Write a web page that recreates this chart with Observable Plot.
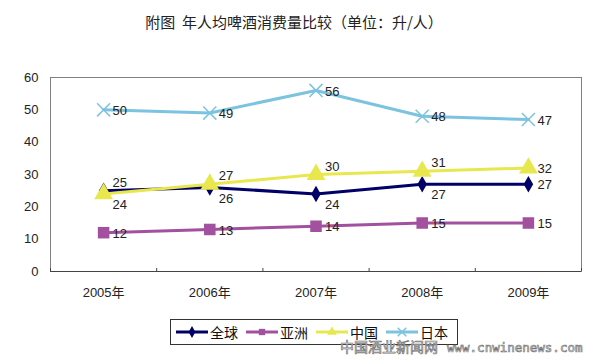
<!DOCTYPE html>
<html><head><meta charset="utf-8">
<script src="https://cdn.jsdelivr.net/npm/d3@7"></script>
<script src="https://cdn.jsdelivr.net/npm/@observablehq/plot@0.6"></script>
<style>
body{margin:0;background:#fff;}
#wrap{position:relative;width:600px;height:362px;overflow:hidden;font-family:"Liberation Sans","Noto Sans CJK SC",sans-serif;background:#fff;}
#title{position:absolute;left:0;top:12px;width:588px;text-align:center;font-size:15px;line-height:20px;color:#222;font-family:"Noto Sans CJK SC",sans-serif;z-index:2;}
#chart{position:absolute;left:0;top:0;z-index:1;}
#legend{position:absolute;left:170px;top:319px;width:288px;height:26px;border:1px solid #333;box-sizing:border-box;display:flex;flex-wrap:nowrap;align-items:center;padding-left:4px;font-size:14px;color:#111;font-family:"Noto Sans CJK SC",sans-serif;background:#fff;z-index:2;white-space:nowrap;}
#legend .item{display:flex;align-items:center;margin-right:7px;line-height:16px;flex-shrink:0;white-space:nowrap;}
#legend svg{margin-right:1px;flex-shrink:0;}
#wm{position:absolute;left:340px;top:336px;white-space:nowrap;z-index:3;color:#fff;-webkit-text-stroke:0.7px #777;}
#wm .cn{font-size:14px;font-family:"Noto Sans CJK SC",sans-serif;}
#wm .en{font-size:12.5px;font-family:"DejaVu Sans Mono",monospace;margin-left:9px;}
</style></head>
<body>
<div id="wrap">
  <div id="title">附图&nbsp;&nbsp;年人均啤酒消费量比较（单位：升/人）</div>
  <div id="chart"></div>
  <div id="legend"></div>
  <div id="wm"><span class="cn">中国酒业新闻网</span><span class="en">www.cnwinenews.com</span></div>
</div>
<script>
const years = ["2005", "2006", "2007", "2008", "2009"];
const seriesNames = ["全球", "亚洲", "中国", "日本"];
const global = [25, 26, 24, 27, 27];
const asia = [12, 13, 14, 15, 15];
const china = [24, 27, 30, 31, 32];
const japan = [50, 49, 56, 48, 47];
const yTicks = [0, 10, 20, 30, 40, 50, 60];
// label placement relative to marker
const globalLabelPos = ["above", "below", "below", "below", "right"];
const chinaLabelPos = ["below", "above", "above", "above", "right"];
const asiaLabelPos = ["right", "right", "right", "right", "right"];
const japanLabelPos = ["right", "right", "right", "right", "right"];

const colors = {"全球": "#000066", "亚洲": "#A3509F", "中国": "#E8E84E", "日本": "#7CC3DF"};
const symbols = {"全球": "diamond", "亚洲": "square", "中国": "triangle", "日本": "times"};
const symbolR = {"全球": 5, "亚洲": 6.5, "中国": 7, "日本": 6};
const values = {"全球": global, "亚洲": asia, "中国": china, "日本": japan};
const labelPos = {"全球": globalLabelPos, "亚洲": asiaLabelPos, "中国": chinaLabelPos, "日本": japanLabelPos};
const dyFor = {above: -8, below: 11, right: 1};

const rows = [];
for (const s of seriesNames) {
  values[s].forEach((v, i) => rows.push({series: s, i, year: years[i], v, pos: labelPos[s][i]}));
}
const boundaries = years.map((_, i) => i - 0.5).concat([years.length - 0.5]);

const marks = [
  Plot.frame({stroke: "#808080"}),
  Plot.axisY({ticks: yTicks, tickSize: 0, tickPadding: 12, fontSize: 13, fill: "#222", label: null}),
  Plot.axisX({ticks: years.map((_, i) => i), tickFormat: i => years[i] + "年", tickSize: 0, tickPadding: 16, fontSize: 13, fill: "#222", label: null}),
  Plot.axisX({ticks: boundaries, tickFormat: () => "", tickSize: -3, stroke: "#444", label: null}),
  Plot.ruleY([0], {stroke: "#444"})
];
for (const s of seriesNames) {
  const d = rows.filter(r => r.series === s);
  marks.push(Plot.line(d, {x: "i", y: "v", stroke: colors[s], strokeWidth: 3}));
  if (symbols[s] === "times") {
    marks.push(Plot.dot(d, {x: "i", y: "v", symbol: () => symbols[s], stroke: colors[s], strokeWidth: 1.5, r: symbolR[s]}));
  } else {
    marks.push(Plot.dot(d, {x: "i", y: "v", symbol: () => symbols[s], fill: colors[s], r: symbolR[s]}));
  }
}
for (const p of ["above", "below", "right"]) {
  marks.push(Plot.text(rows.filter(r => r.pos === p), {x: "i", y: "v", text: "v", textAnchor: "start", dx: 9, dy: dyFor[p], fontSize: 13, fill: "#222"}));
}

const chart = Plot.plot({
  width: 600, height: 362,
  marginTop: 77, marginBottom: 91, marginLeft: 50, marginRight: 19,
  style: {fontFamily: '"Liberation Sans","Noto Sans CJK SC",sans-serif', background: "transparent"},
  x: {type: "linear", domain: [-0.5, years.length - 0.5], axis: null},
  y: {domain: [0, 60], axis: null},
  symbol: {type: "identity"},
  marks
});
document.getElementById("chart").appendChild(chart);

// legend
const legend = document.getElementById("legend");
for (const s of seriesNames) {
  const item = document.createElement("div");
  item.className = "item";
  const sym = d3.symbol().type({diamond: d3.symbolDiamond, square: d3.symbolSquare, triangle: d3.symbolTriangle, times: d3.symbolTimes}[symbols[s]]).size(symbols[s] === "times" ? 50 : 40)();
  const filled = symbols[s] !== "times";
  item.innerHTML = `<svg width="34" height="14"><line x1="1" x2="33" y1="7" y2="7" stroke="${colors[s]}" stroke-width="3"/><path transform="translate(17,7)" d="${sym}" ${filled ? `fill="${colors[s]}"` : `fill="none" stroke="${colors[s]}" stroke-width="1.5"`}/></svg><span>${s}</span>`;
  legend.appendChild(item);
}
</script>
</body></html>
